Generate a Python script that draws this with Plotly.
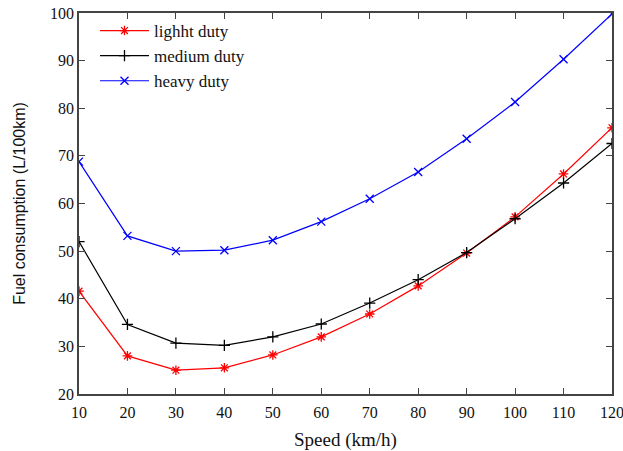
import plotly.graph_objects as go

speed = [10, 20, 30, 40, 50, 60, 70, 80, 90, 100, 110, 120]
light = [41.6, 28.0, 25.0, 25.5, 28.2, 32.0, 36.8, 42.7, 49.6, 57.2, 66.2, 75.9]
medium = [52.0, 34.6, 30.7, 30.2, 32.0, 34.7, 39.1, 44.0, 49.7, 56.8, 64.3, 72.6]
heavy = [68.8, 53.2, 50.0, 50.2, 52.3, 56.2, 61.0, 66.6, 73.6, 81.3, 90.3, 99.8]

fig = go.Figure()
series = [
    ("lighht duty", light, "#ff0000", "asterisk-open"),
    ("medium duty", medium, "#000000", "cross-thin-open"),
    ("heavy duty", heavy, "#0000ff", "x-thin-open"),
]
for name, vals, col, sym in series:
    fig.add_trace(go.Scatter(
        x=speed, y=vals, name=name, mode="lines+markers",
        line=dict(color=col, width=1.2),
        marker=dict(symbol=sym, size=8, color=col, line=dict(color=col, width=1.3)),
    ))

fig.update_layout(
    width=623, height=451,
    margin=dict(l=79, r=11, t=13, b=57),
    paper_bgcolor="white", plot_bgcolor="white",
    font=dict(family="Liberation Serif", color="#111111"),
    showlegend=True,
    legend=dict(x=0.03, y=1.0, xanchor="left", yanchor="top",
                bgcolor="rgba(0,0,0,0)", font=dict(family="Liberation Serif", size=17, color="#111111"),
                tracegroupgap=0, itemwidth=49),
)
fig.update_xaxes(
    range=[10, 120], tickmode="array", tickvals=speed, automargin=False,
    ticks="inside", ticklen=6, tickcolor="#444444", mirror="ticks", ticklabelstandoff=3,
    ticklabeloverflow="allow",
    showline=True, linecolor="#444444", linewidth=1.5, showgrid=False, zeroline=False,
    tickfont=dict(family="Liberation Serif", size=16, color="#111111"),
    title=dict(text="Speed (km/h)", font=dict(family="Liberation Serif", size=19, color="#111111"), standoff=16),
)
fig.update_yaxes(
    range=[20, 100], tickvals=[20, 30, 40, 50, 60, 70, 80, 90, 100], automargin=False,
    ticks="inside", ticklen=6, tickcolor="#444444", mirror="ticks",
    ticklabeloverflow="allow",
    showline=True, linecolor="#444444", linewidth=1.5, showgrid=False, zeroline=False,
    tickfont=dict(family="Liberation Serif", size=16, color="#111111"),
    title=dict(text="Fuel consumption (L/100km)", font=dict(family="Liberation Sans", size=16, color="#111111"), standoff=20),
)
fig.write_html("out.html", post_script="document.body.style.margin='0px';",
               config={"displayModeBar": False})
